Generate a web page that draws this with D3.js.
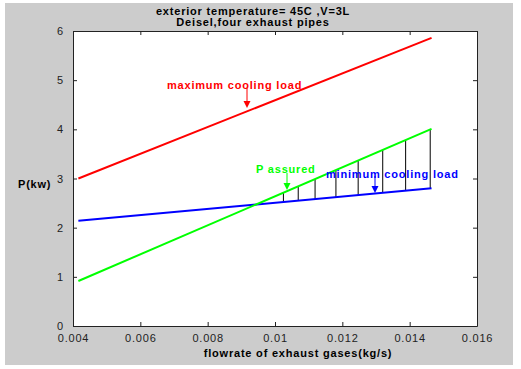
<!DOCTYPE html>
<html>
<head>
<meta charset="utf-8">
<script src="https://cdn.jsdelivr.net/npm/d3@7/dist/d3.min.js"></script>
<style>
  html, body { margin: 0; padding: 0; background: #ffffff; }
  svg { display: block; }
</style>
</head>
<body>
<svg id="chart" width="521" height="369"></svg>
<script>
// ── data ──────────────────────────────────────────────────────────────
var flowrate   = [0.00416, 0.01465];          // kg/s, ends of the lines
var maxLoad    = [3.00, 5.86];                // red
var minLoad    = [2.14, 2.80];                // blue
var pAssured   = [0.915, 4.01];               // green
var hatchX     = [0.01025, 0.01069, 0.01119, 0.01181, 0.01247, 0.0132, 0.01388, 0.01461];
var xTicks     = [0.004, 0.006, 0.008, 0.01, 0.012, 0.014, 0.016];
var yTicks     = [0, 1, 2, 3, 4, 5, 6];
var titleLines = ['exterior temperature= 45C ,V=3L', 'Deisel,four exhaust pipes'];

// ── geometry ──────────────────────────────────────────────────────────
var L = 73, R = 477, T = 31, B = 326;
var font = 'Liberation Sans, Arial, Helvetica, sans-serif';

var svg = d3.select('#chart');

// figure background
svg.append('rect')
    .attr('x', 5).attr('y', 3).attr('width', 508).attr('height', 362)
    .attr('fill', '#cccccc');

var x = d3.scaleLinear().domain([0.004, 0.016]).range([L, R]);
var y = d3.scaleLinear().domain([0, 6]).range([B, T]);

// plot area
svg.append('rect')
    .attr('x', L).attr('y', T).attr('width', R - L).attr('height', B - T)
    .attr('fill', '#ffffff');

// ── axes (ticks inward on all four sides) ────────────────────────────
var fmt = function (d) { return String(+d.toFixed(3)); };

svg.append('g').attr('transform', 'translate(0,' + B + ')')
    .call(d3.axisBottom(x).tickValues(xTicks).tickSizeInner(-4).tickSizeOuter(0)
        .tickPadding(8).tickFormat(fmt));
svg.append('g').attr('transform', 'translate(0,' + T + ')')
    .call(d3.axisTop(x).tickValues(xTicks).tickSizeInner(-4).tickSizeOuter(0)
        .tickFormat(''));
svg.append('g').attr('transform', 'translate(' + L + ',0)')
    .call(d3.axisLeft(y).tickValues(yTicks).tickSizeInner(-4).tickSizeOuter(0)
        .tickPadding(9).tickFormat(d3.format('d')));
svg.append('g').attr('transform', 'translate(' + R + ',0)')
    .call(d3.axisRight(y).tickValues(yTicks).tickSizeInner(-4).tickSizeOuter(0)
        .tickFormat(''));

svg.selectAll('.domain, .tick line').attr('stroke', '#222').attr('stroke-width', 1);
svg.selectAll('.tick text')
    .attr('font-family', font).attr('font-size', '11px').attr('fill', '#222')
    .attr('letter-spacing', '0.8px');

// ── hatching between P assured and minimum load ───────────────────────
var greenAt = d3.scaleLinear().domain(flowrate).range(pAssured);
var blueAt  = d3.scaleLinear().domain(flowrate).range(minLoad);

svg.append('g').selectAll('line').data(hatchX).join('line')
    .attr('x1', function (d) { return x(d); })
    .attr('x2', function (d) { return x(d); })
    .attr('y1', function (d) { return y(blueAt(d)); })
    .attr('y2', function (d) { return y(greenAt(d)); })
    .attr('stroke', '#000').attr('stroke-width', 1);

// ── series lines ──────────────────────────────────────────────────────
var line = d3.line()
    .x(function (d) { return x(d[0]); })
    .y(function (d) { return y(d[1]); });

[[maxLoad, '#ff0000'], [minLoad, '#0000ff'], [pAssured, '#00ff00']].forEach(function (s) {
    svg.append('path')
        .attr('d', line(d3.zip(flowrate, s[0])))
        .attr('fill', 'none').attr('stroke', s[1]).attr('stroke-width', 2);
});

// ── annotations with arrows ──────────────────────────────────────────
function boldText(sel) {
    return sel.attr('font-family', font).attr('font-size', '11px')
        .attr('font-weight', 'bold').attr('letter-spacing', '0.8px');
}

function note(text, color, tx, ty, ax, ay0, ay1) {
    svg.append('text')
        .attr('x', tx).attr('y', ty)
        .call(boldText)
        .attr('fill', color).text(text);
    svg.append('line')
        .attr('x1', ax).attr('x2', ax).attr('y1', ay0).attr('y2', ay1 - 5)
        .attr('stroke', color).attr('stroke-width', 1);
    svg.append('path')
        .attr('d', 'M' + (ax - 3.5) + ',' + (ay1 - 7) + 'L' + (ax + 3.5) + ',' + (ay1 - 7) +
                   'L' + ax + ',' + ay1 + 'Z')
        .attr('fill', color);
}
note('maximum cooling load', '#ff0000', 167, 89, 247, 88, 108);
note('P assured',            '#00ff00', 256, 173, 287, 173, 190);
note('minimum cooling load', '#0000ff', 326, 178, 375, 176, 193);

// ── labels ────────────────────────────────────────────────────────────
svg.append('g').selectAll('text').data(titleLines).join('text')
    .attr('x', 253).attr('y', function (d, i) { return 15 + i * 11; })
    .attr('text-anchor', 'middle')
    .call(boldText)
    .attr('fill', '#000').text(function (d) { return d; });

svg.append('text')
    .attr('x', 298).attr('y', 357)
    .attr('text-anchor', 'middle')
    .call(boldText)
    .attr('fill', '#000').text('flowrate of exhaust gases(kg/s)');

svg.append('text')
    .attr('x', 18).attr('y', 188)
    .call(boldText)
    .attr('fill', '#000').text('P(kw)');
</script>
</body>
</html>
